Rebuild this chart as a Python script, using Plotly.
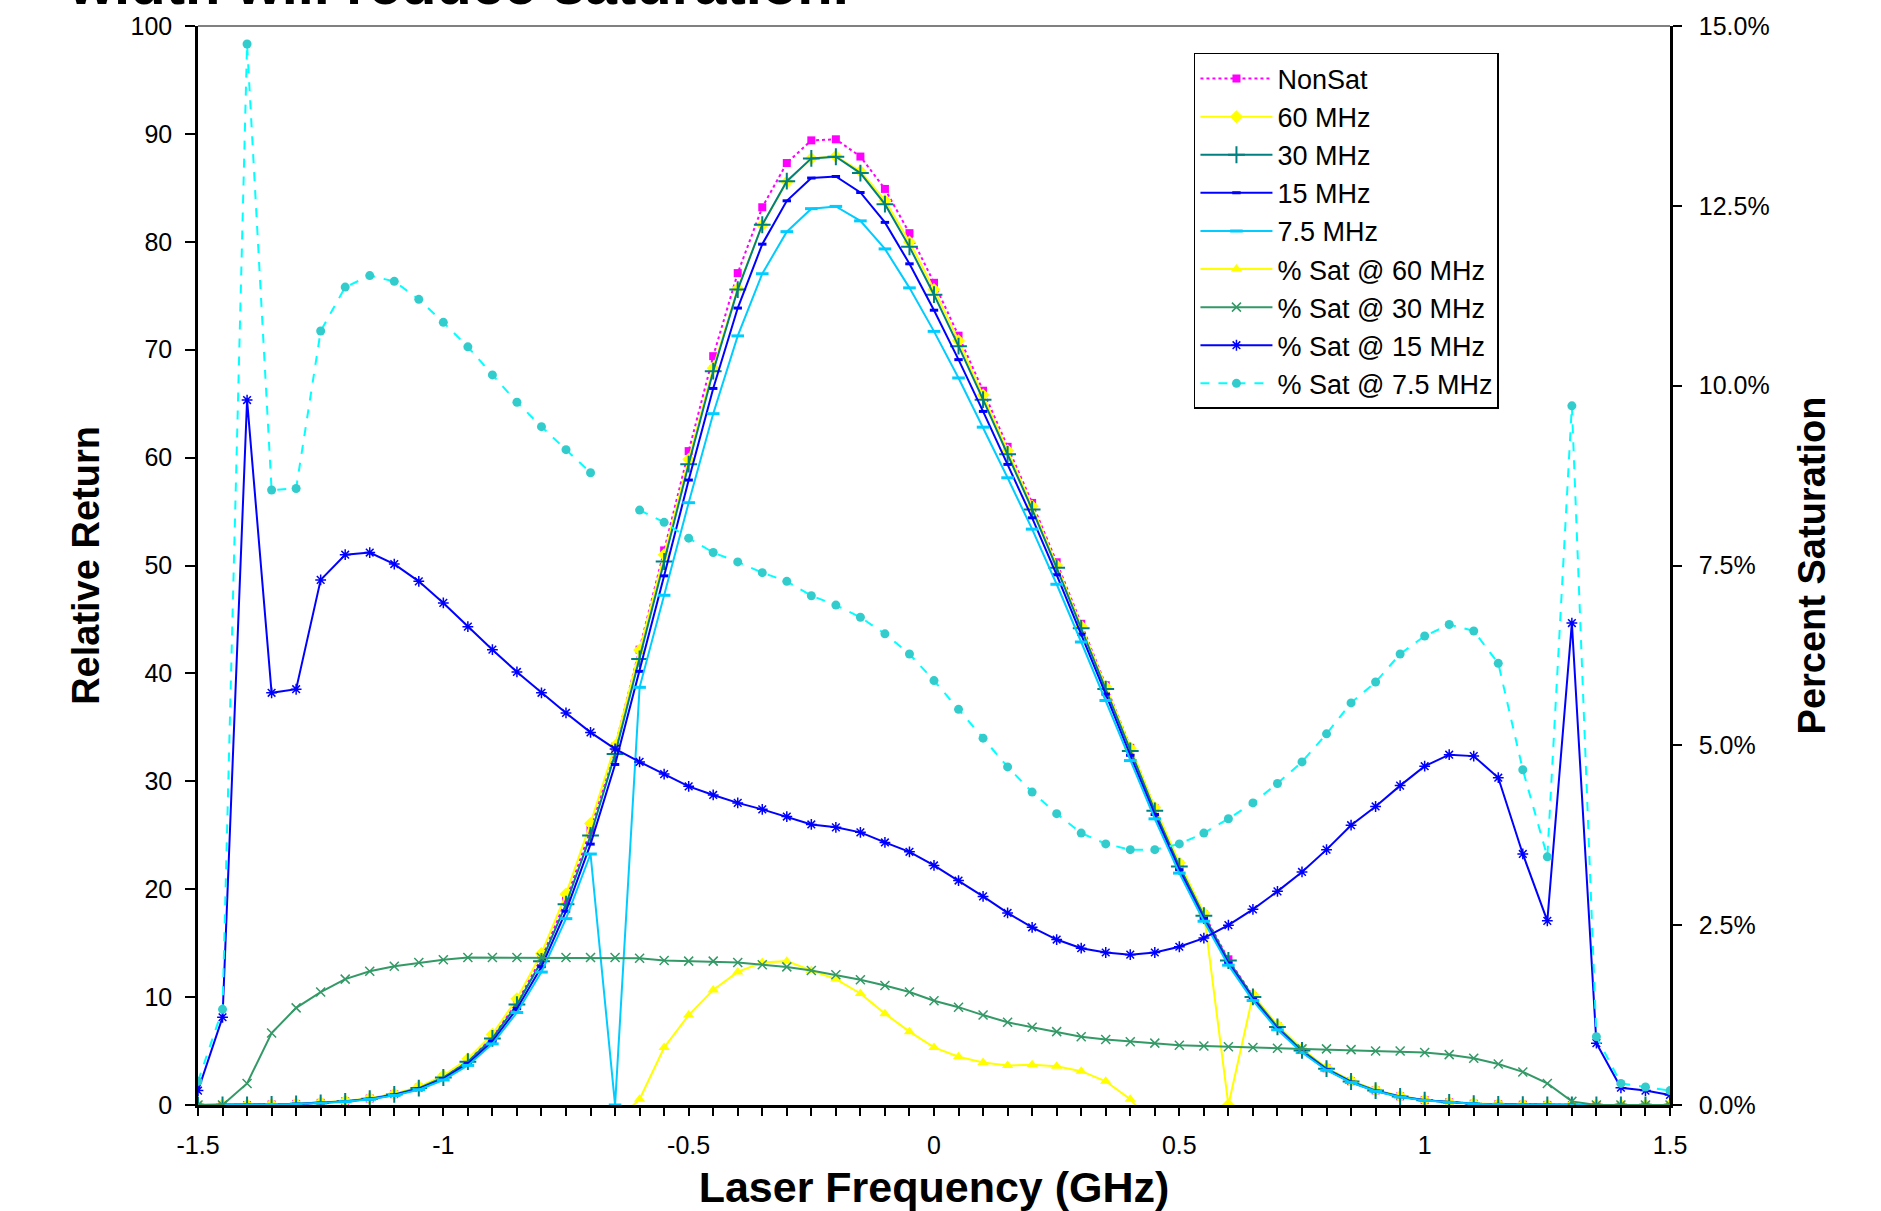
import plotly.graph_objects as go

# ---------------- data ----------------
FREQ = [-1.5, -1.45, -1.4, -1.35, -1.3, -1.25, -1.2, -1.15, -1.1, -1.05, -1.0, -0.95, -0.9, -0.85, -0.8,
        -0.75, -0.7, -0.65, -0.6, -0.55, -0.5, -0.45, -0.4, -0.35, -0.3, -0.25, -0.2, -0.15, -0.1, -0.05,
        0.0, 0.05, 0.1, 0.15, 0.2, 0.25, 0.3, 0.35, 0.4, 0.45, 0.5, 0.55, 0.6, 0.65, 0.7, 0.75, 0.8, 0.85,
        0.9, 0.95, 1.0, 1.05, 1.1, 1.15, 1.2, 1.25, 1.3, 1.35, 1.4, 1.45, 1.5]

NONSAT = [0, 0, 0, 0.05, 0.1, 0.2, 0.35, 0.6, 1.0, 1.6, 2.6, 4.1, 6.3, 9.5, 13.6, 19.0, 25.5, 33.2, 42.2,
          51.4, 60.6, 69.4, 77.1, 83.2, 87.3, 89.4, 89.5, 87.9, 84.9, 80.8, 76.2, 71.3, 66.2, 61.0, 55.8,
          50.3, 44.6, 38.9, 33.1, 27.5, 22.3, 17.7, 13.5, 10.1, 7.3, 5.1, 3.4, 2.2, 1.35, 0.8, 0.45, 0.25,
          0.12, 0.06, 0.03, 0.01, 0, 0, 0, 0, 0]

MHZ60 = [0, 0, 0, 0.05, 0.11, 0.21, 0.37, 0.63, 1.05, 1.68, 2.72, 4.28, 6.55, 9.85, 14.05, 19.55, 26.1,
         33.28, 42.17, 50.99, 59.84, 68.29, 75.67, 81.55, 85.55, 87.73, 87.93, 86.54, 83.82, 79.98, 75.59,
         70.82, 65.81, 60.66, 55.49, 50.03, 44.39, 38.77, 33.07, 27.58, 22.45, 17.8, 0, 10.2, 7.4, 5.2,
         3.45, 2.25, 1.4, 0.83, 0.47, 0.26, 0.13, 0.06, 0.03, 0.01, 0, 0, 0, 0, 0]

MHZ30 = [0, 0, 0, 0.05, 0.1, 0.197, 0.344, 0.589, 0.981, 1.568, 2.547, 4.016, 6.171, 9.305, 13.32, 18.61,
         24.98, 32.52, 41.34, 50.37, 59.39, 68.01, 75.57, 81.58, 85.62, 87.73, 87.88, 86.37, 83.49, 79.53,
         75.10, 70.33, 65.37, 60.30, 55.20, 49.79, 44.18, 38.55, 32.81, 27.26, 22.11, 17.55, 13.39, 10.02,
         7.24, 5.06, 3.37, 2.18, 1.34, 0.79, 0.447, 0.248, 0.119, 0.06, 0.03, 0.01, 0, 0, 0, 0, 0]

MHZ15 = [0, 0, 0, 0.047, 0.094, 0.185, 0.323, 0.554, 0.925, 1.484, 2.419, 3.827, 5.901, 8.928, 12.82,
         17.96, 24.18, 31.56, 40.19, 49.04, 57.92, 66.41, 73.86, 79.78, 83.80, 85.91, 86.05, 84.57, 81.80,
         77.96, 73.66, 69.08, 64.28, 59.37, 54.42, 49.14, 43.63, 38.08, 32.41, 26.92, 21.81, 17.29, 13.16,
         9.83, 7.08, 4.93, 3.28, 2.11, 1.29, 0.76, 0.43, 0.238, 0.114, 0.057, 0.029, 0.01, 0, 0, 0, 0, 0]

MHZ7_5 = [0, 0, 0, 0.046, 0.091, 0.178, 0.31, 0.531, 0.886, 1.421, 2.317, 3.667, 5.661, 8.571, 12.32,
          17.27, 23.26, 0, 38.71, 47.24, 55.82, 64.07, 71.28, 77.04, 80.94, 83.07, 83.28, 81.94, 79.34,
          75.73, 71.70, 67.38, 62.82, 58.13, 53.37, 48.26, 42.91, 37.49, 31.92, 26.52, 21.49, 17.03, 12.96,
          9.68, 6.97, 4.86, 3.22, 2.08, 1.27, 0.75, 0.42, 0.233, 0.112, 0.056, 0.029, 0.01, 0, 0, 0, 0, 0]

# percent saturation (right axis, %)
SAT60 = [None, None, None, None, None, None, None, None, None, None, None, None, None, None, None, None,
         None, -0.24, 0.08, 0.8, 1.25, 1.6, 1.85, 1.98, 2.0, 1.87, 1.75, 1.55, 1.27, 1.02, 0.8, 0.67, 0.59,
         0.55, 0.56, 0.54, 0.47, 0.33, 0.08, -0.3, None, None, None, None, None, None, None, None, None,
         None, None, None, None, None, None, None, None, None, None, None, None]

SAT30 = [0, 0, 0.3, 1.0, 1.35, 1.57, 1.75, 1.86, 1.93, 1.98, 2.02, 2.05, 2.05, 2.05, 2.05, 2.05, 2.05, 2.05,
         2.04, 2.01, 2.0, 2.0, 1.98, 1.95, 1.92, 1.87, 1.81, 1.74, 1.66, 1.57, 1.45, 1.36, 1.25, 1.15, 1.08,
         1.02, 0.95, 0.91, 0.88, 0.86, 0.83, 0.82, 0.81, 0.8, 0.79, 0.78, 0.78, 0.77, 0.75, 0.75, 0.73, 0.7,
         0.65, 0.57, 0.46, 0.3, 0.05, 0, 0, 0, 0]

SAT15 = [0.2, 1.22, 9.8, 5.73, 5.78, 7.3, 7.65, 7.68, 7.52, 7.28, 6.98, 6.65, 6.33, 6.02, 5.73, 5.45, 5.18,
         4.95, 4.77, 4.6, 4.43, 4.31, 4.2, 4.11, 4.01, 3.9, 3.86, 3.79, 3.65, 3.52, 3.33, 3.12, 2.9, 2.67,
         2.47, 2.3, 2.18, 2.12, 2.09, 2.12, 2.2, 2.32, 2.5, 2.72, 2.97, 3.24, 3.55, 3.89, 4.15, 4.44, 4.71,
         4.87, 4.85, 4.55, 3.49, 2.56, 6.7, 0.86, 0.24, 0.2, 0.14]

SAT7_5 = [0.33, 1.33, 14.75, 8.55, 8.57, 10.76, 11.37, 11.53, 11.45, 11.2, 10.88, 10.54, 10.15, 9.77, 9.43,
          9.11, 8.79, None, 8.27, 8.1, 7.88, 7.68, 7.55, 7.4, 7.28, 7.08, 6.95, 6.78, 6.55, 6.27, 5.9, 5.5,
          5.1, 4.7, 4.35, 4.05, 3.78, 3.63, 3.55, 3.55, 3.63, 3.78, 3.98, 4.2, 4.47, 4.77, 5.16, 5.59, 5.88,
          6.27, 6.52, 6.68, 6.59, 6.14, 4.66, 3.45, 9.72, 0.95, 0.3, 0.25, 0.2]

X_TICKVALS = [-1.5, -1.0, -0.5, 0.0, 0.5, 1.0, 1.5]
X_TICKTEXT = ["-1.5", "-1", "-0.5", "0", "0.5", "1", "1.5"]

TITLE = "width will reduce saturation."

# ---------------- figure ----------------
FONT = "Liberation Sans, Arial, sans-serif"

fig = go.Figure()

fig.add_trace(go.Scatter(x=FREQ, y=NONSAT, name="NonSat", mode="lines+markers",
                         line=dict(color="#FF00FF", width=2, dash="dot"),
                         marker=dict(symbol="square", size=8, color="#FF00FF")))
fig.add_trace(go.Scatter(x=FREQ, y=MHZ60, name="60 MHz", mode="lines+markers",
                         line=dict(color="#FFFF00", width=2),
                         marker=dict(symbol="diamond", size=10, color="#FFFF00")))
fig.add_trace(go.Scatter(x=FREQ, y=MHZ30, name="30 MHz", mode="lines+markers",
                         line=dict(color="#008080", width=2),
                         marker=dict(symbol="cross-thin-open", size=12, color="#008080",
                                     line=dict(color="#008080", width=2))))
fig.add_trace(go.Scatter(x=FREQ, y=MHZ15, name="15 MHz", mode="lines+markers",
                         line=dict(color="#0000FF", width=2),
                         marker=dict(symbol="line-ew-open", size=6, color="#0000FF",
                                     line=dict(color="#0000FF", width=3))))
fig.add_trace(go.Scatter(x=FREQ, y=MHZ7_5, name="7.5 MHz", mode="lines+markers",
                         line=dict(color="#00CCFF", width=2),
                         marker=dict(symbol="line-ew-open", size=9, color="#00CCFF",
                                     line=dict(color="#00CCFF", width=3))))

fig.add_trace(go.Scatter(x=FREQ, y=SAT60, name="% Sat @ 60 MHz", mode="lines+markers", yaxis="y2",
                         line=dict(color="#FFFF00", width=2),
                         marker=dict(symbol="triangle-up", size=10, color="#FFFF00")))
fig.add_trace(go.Scatter(x=FREQ, y=SAT30, name="% Sat @ 30 MHz", mode="lines+markers", yaxis="y2",
                         line=dict(color="#339966", width=2),
                         marker=dict(symbol="x-thin-open", size=9, color="#339966",
                                     line=dict(color="#339966", width=1.5))))
fig.add_trace(go.Scatter(x=FREQ, y=SAT15, name="% Sat @ 15 MHz", mode="lines+markers", yaxis="y2",
                         line=dict(color="#0000FF", width=2),
                         marker=dict(symbol="asterisk-open", size=9, color="#0000FF",
                                     line=dict(color="#0000FF", width=1.5))))
fig.add_trace(go.Scatter(x=FREQ, y=SAT7_5, name="% Sat @ 7.5 MHz", mode="lines+markers", yaxis="y2",
                         line=dict(color="#00FFFF", width=2, dash="dash"),
                         marker=dict(symbol="circle", size=9, color="#33CCCC")))

tickfont = dict(family=FONT, size=25, color="black")

fig.update_layout(
    width=1881, height=1211,
    margin=dict(l=198, r=211, t=26, b=106, autoexpand=False),
    paper_bgcolor="white", plot_bgcolor="white",
    font=dict(family=FONT, color="black"),
    showlegend=True,
    legend=dict(x=0.6766, y=0.975, xanchor="left", yanchor="top",
                bgcolor="white", bordercolor="black", borderwidth=1.5,
                font=dict(family=FONT, size=27, color="black"),
                itemwidth=72, tracegroupgap=0),
    xaxis=dict(range=[-1.5, 1.5], tickvals=X_TICKVALS, ticktext=X_TICKTEXT, automargin=False,
               showgrid=False, zeroline=False, showline=True, linecolor="black", linewidth=2.5,
               ticks="outside", ticklen=8, tickwidth=2, tickcolor="black",
               minor=dict(dtick=0.05, tick0=-1.5, ticks="outside", ticklen=8, tickwidth=2,
                          tickcolor="black", showgrid=False),
               tickfont=tickfont, ticklabelstandoff=8,
               title=dict(text="<b>Laser Frequency (GHz)</b>",
                          font=dict(family=FONT, size=43, color="black"), standoff=22)),
    xaxis2=dict(range=[-1.5, 1.5], overlaying="x", anchor="y", side="bottom", automargin=False,
                tickvals=X_TICKVALS, showticklabels=False, showgrid=False, zeroline=False,
                ticks="inside", ticklen=8, tickwidth=2, tickcolor="black",
                minor=dict(dtick=0.05, tick0=-1.5, ticks="inside", ticklen=8, tickwidth=2,
                           tickcolor="black", showgrid=False)),
    yaxis=dict(range=[0, 100], dtick=10, showgrid=False, zeroline=False, automargin=False,
               showline=True, linecolor="black", linewidth=2.5,
               ticks="outside", ticklen=10, tickwidth=2, tickcolor="black",
               tickfont=tickfont, ticklabelstandoff=8,
               title=dict(text="<b>Relative Return</b>",
                          font=dict(family=FONT, size=38, color="black"), standoff=20)),
    yaxis3=dict(range=[0, 100], dtick=10, overlaying="y", anchor="x", side="left", automargin=False,
                showticklabels=False, showgrid=False, zeroline=False,
                ticks="inside", ticklen=10, tickwidth=2, tickcolor="black"),
    yaxis2=dict(range=[0, 15], dtick=2.5, overlaying="y", anchor="x", side="right", automargin=False,
                showgrid=False, zeroline=False, showline=True, linecolor="black", linewidth=2.5,
                ticks="outside", ticklen=9, tickwidth=2, tickcolor="black",
                tickformat=".1f", ticksuffix="%", tickfont=tickfont, ticklabelstandoff=12,
                title=dict(text="<b>Percent Saturation</b>",
                           font=dict(family=FONT, size=38, color="black"), standoff=30)),
    yaxis4=dict(range=[0, 15], dtick=2.5, overlaying="y", anchor="x", side="right", automargin=False,
                showticklabels=False, showgrid=False, zeroline=False,
                ticks="inside", ticklen=9, tickwidth=2, tickcolor="black"),
    shapes=[dict(type="line", xref="paper", yref="paper", x0=0, x1=1, y0=1, y1=1,
                 line=dict(color="#808080", width=2), layer="below")],
    annotations=[dict(text="<b>" + TITLE + "</b>", xref="paper", yref="paper",
                      x=-0.0897, y=1.0074, xanchor="left", yanchor="bottom", showarrow=False,
                      font=dict(family=FONT, size=58, color="black"))],
)

fig.write_html("out.html")
